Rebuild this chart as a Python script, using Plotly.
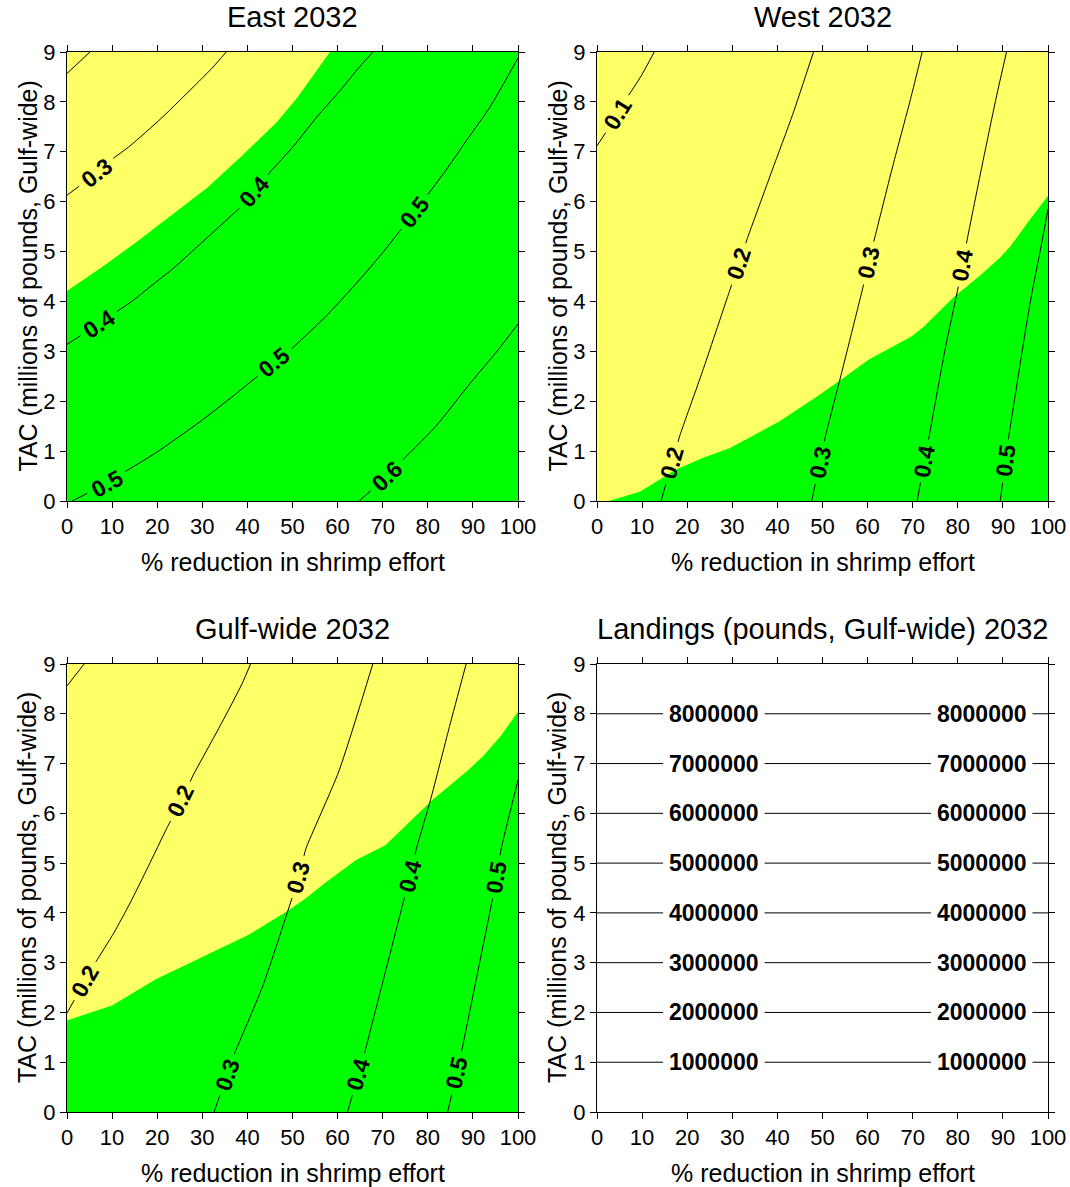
import math
import plotly.graph_objects as go

FONT = "Liberation Sans, Arial, sans-serif"
YELLOW = "#FFFF66"
GREEN = "#00FF00"
W, H = 1070, 1187

X_RANGE = [0, 100]
Y_RANGE = [0, 9]

# ---- East 2032 -------------------------------------------------------------
east_fill_x = [0, 8.1, 15.7, 23.4, 31.1, 38.8, 46.4, 51.0, 54.3, 58.3]
east_fill_y = [4.21, 4.71, 5.21, 5.75, 6.28, 6.92, 7.58, 8.08, 8.50, 9.0]

east_02_x = [0, 5.1]
east_02_y = [8.57, 9.0]
east_02_lab = []
east_03_x = [0, 6.6, 10.3, 14.0, 21.0, 28.8, 32.4, 35.3]
east_03_y = [6.13, 6.57, 6.87, 7.12, 7.68, 8.37, 8.70, 9.0]
east_03_lab = [1]
east_04_x = [0, 7.1, 11.1, 14.2, 20.3, 23.4, 31.1, 38.0, 41.4, 44.9, 50.3, 55.6, 60.2, 64.1, 67.8]
east_04_y = [3.14, 3.55, 3.80, 3.99, 4.43, 4.65, 5.28, 5.85, 6.20, 6.58, 7.12, 7.72, 8.19, 8.62, 9.0]
east_04_lab = [1, 8]
east_05_x = [1.15, 8.8, 12.9, 19.6, 29.5, 37.2, 46.0, 49.9, 57.2, 61.0, 65.6, 70.2, 74.1, 77.0,
             80.0, 84.4, 88.6, 93.8, 100]
east_05_y = [0, 0.35, 0.59, 0.96, 1.59, 2.13, 2.78, 3.06, 3.68, 4.05, 4.51, 5.00, 5.45, 5.80,
             6.14, 6.68, 7.23, 7.90, 8.88]
east_05_lab = [1, 6, 13]
east_06_x = [64.8, 71.0, 74.4, 81.7, 89.4, 95.6, 100]
east_06_y = [0, 0.50, 0.82, 1.49, 2.36, 3.03, 3.55]
east_06_lab = [1]

# ---- West 2032 -------------------------------------------------------------
west_fill_x = [0, 2.7, 9.6, 17.3, 23.4, 29.5, 40.3, 48.7, 54.1, 60.2, 69.8, 72.5, 79.0, 84.8,
               89.4, 91.7, 95.5, 100]
west_fill_y = [0, 0, 0.19, 0.62, 0.86, 1.06, 1.59, 2.09, 2.43, 2.83, 3.30, 3.50, 4.08, 4.51,
               4.88, 5.11, 5.58, 6.12]

west_01_x = [0, 4.6, 6.9, 9.6, 12.7]
west_01_y = [7.12, 7.75, 8.12, 8.49, 9.0]
west_01_lab = [1]
west_02_x = [14.2, 16.6, 18.4, 23.4, 28.8, 31.4, 33.4, 38.8, 43.4, 48.0]
west_02_y = [0, 0.76, 1.32, 2.60, 4.05, 4.75, 5.28, 6.62, 7.75, 9.0]
west_02_lab = [1, 5]
west_03_x = [47.6, 49.4, 50.7, 54.1, 59.1, 60.2, 61.4, 65.6, 69.5, 72.1]
west_03_y = [0, 0.77, 1.32, 2.52, 4.33, 4.77, 5.21, 6.72, 8.05, 9.0]
west_03_lab = [1, 5]
west_04_x = [71.0, 72.6, 73.7, 77.1, 80.2, 81.0, 82.1, 85.6, 88.6, 90.8]
west_04_y = [0, 0.80, 1.32, 3.00, 4.33, 4.73, 5.25, 6.82, 8.12, 9.0]
west_04_lab = [1, 5]
west_05_x = [89.4, 90.6, 91.3, 94.8, 96.4, 98.2, 100]
west_05_y = [0, 0.80, 1.29, 3.30, 4.15, 4.98, 5.85]
west_05_lab = [1]

# ---- Gulf-wide 2032 --------------------------------------------------------
gulf_fill_x = [0, 10.0, 19.6, 29.5, 40.3, 48.7, 52.6, 57.2, 64.1, 70.6, 74.8, 81.0, 89.0,
               92.5, 96.3, 100]
gulf_fill_y = [1.84, 2.14, 2.66, 3.09, 3.56, 4.03, 4.27, 4.60, 5.06, 5.36, 5.73, 6.27, 6.87,
               7.17, 7.57, 8.04]

gulf_01_x = [0, 3.8]
gulf_01_y = [8.56, 9.0]
gulf_01_lab = []
gulf_02_x = [0, 4.0, 6.5, 10.4, 14.0, 18.0, 21.9, 25.2, 28.0, 34.2, 38.8, 40.7]
gulf_02_y = [1.99, 2.63, 3.03, 3.60, 4.20, 4.93, 5.66, 6.24, 6.77, 7.80, 8.60, 9.0]
gulf_02_lab = [1, 7]
gulf_03_x = [32.6, 35.5, 37.2, 43.4, 49.9, 51.3, 53.0, 60.3, 67.8]
gulf_03_y = [0, 0.75, 1.19, 2.53, 4.30, 4.72, 5.30, 6.85, 9.0]
gulf_03_lab = [1, 5]
gulf_04_x = [62.2, 64.6, 66.0, 74.8, 76.1, 77.5, 80.6, 84.8, 88.5]
gulf_04_y = [0, 0.76, 1.19, 4.30, 4.74, 5.30, 6.27, 7.74, 9.0]
gulf_04_lab = [1, 4]
gulf_05_x = [84.4, 86.4, 87.5, 94.4, 95.2, 96.3, 100]
gulf_05_y = [0, 0.78, 1.22, 4.30, 4.72, 5.30, 6.67]
gulf_05_lab = [1, 4]

# ---- Landings (pounds, Gulf-wide) ------------------------------------------
land_levels = [1000000, 2000000, 3000000, 4000000, 5000000, 6000000, 7000000, 8000000]
land_label_x = [25.9, 85.3]

# ---- Panel geometry (pixel boxes: left, right, top, bottom) ----------------
panels = [
    dict(title="East 2032", box=(67, 518, 52, 501), fill=(east_fill_x, east_fill_y),
         lines=[(east_02_x, east_02_y, east_02_lab, "0.2"),
                (east_03_x, east_03_y, east_03_lab, "0.3"),
                (east_04_x, east_04_y, east_04_lab, "0.4"),
                (east_05_x, east_05_y, east_05_lab, "0.5"),
                (east_06_x, east_06_y, east_06_lab, "0.6")]),
    dict(title="West 2032", box=(597, 1048, 52, 501), fill=(west_fill_x, west_fill_y),
         lines=[(west_01_x, west_01_y, west_01_lab, "0.1"),
                (west_02_x, west_02_y, west_02_lab, "0.2"),
                (west_03_x, west_03_y, west_03_lab, "0.3"),
                (west_04_x, west_04_y, west_04_lab, "0.4"),
                (west_05_x, west_05_y, west_05_lab, "0.5")]),
    dict(title="Gulf-wide 2032", box=(67, 518, 664, 1112), fill=(gulf_fill_x, gulf_fill_y),
         lines=[(gulf_01_x, gulf_01_y, gulf_01_lab, "0.1"),
                (gulf_02_x, gulf_02_y, gulf_02_lab, "0.2"),
                (gulf_03_x, gulf_03_y, gulf_03_lab, "0.3"),
                (gulf_04_x, gulf_04_y, gulf_04_lab, "0.4"),
                (gulf_05_x, gulf_05_y, gulf_05_lab, "0.5")]),
    dict(title="Landings (pounds, Gulf-wide) 2032", box=(597, 1048, 664, 1112), fill=None,
         lines=[([X_RANGE[0], land_label_x[0], land_label_x[1], X_RANGE[1]],
                 [lv / 1e6] * 4, [1, 2], str(lv)) for lv in land_levels]),
]

LABEL_SIZE = 23
CHAR_W = {".": 0.278}


def text_width(s, size):
    return sum(CHAR_W.get(c, 0.556) for c in s) * size


def cut_gaps(xs, ys, centers, radius, sx, sy):
    """Remove the parts of a polyline lying within `radius` px of each label centre."""
    pts = [(x * sx, y * sy) for x, y in zip(xs, ys)]
    cs = [(x * sx, y * sy) for x, y in centers]
    pieces, cur = [], []
    for i in range(len(pts) - 1):
        (x0, y0), (x1, y1) = pts[i], pts[i + 1]
        dx, dy = x1 - x0, y1 - y0
        a = dx * dx + dy * dy
        inside = []
        for cx, cy in cs:
            fx, fy = x0 - cx, y0 - cy
            b = 2 * (fx * dx + fy * dy)
            c = fx * fx + fy * fy - radius * radius
            disc = b * b - 4 * a * c
            if a == 0 or disc <= 0:
                continue
            s = math.sqrt(disc)
            lo, hi = max((-b - s) / (2 * a), 0.0), min((-b + s) / (2 * a), 1.0)
            if lo < hi:
                inside.append((lo, hi))
        inside.sort()
        outs, t = [], 0.0
        for lo, hi in inside:
            if lo > t:
                outs.append((t, lo))
            t = max(t, hi)
        if t < 1:
            outs.append((t, 1.0))
        if not outs and cur:
            pieces.append(cur)
            cur = []
        for ta, tb in outs:
            pa = (x0 + ta * dx, y0 + ta * dy)
            pb = (x0 + tb * dx, y0 + tb * dy)
            if ta == 0 and cur:
                cur.append(pb)
            else:
                if cur:
                    pieces.append(cur)
                cur = [pa, pb]
            if tb < 1:
                pieces.append(cur)
                cur = []
    if cur:
        pieces.append(cur)
    return [([q[0] / sx for q in p], [q[1] / sy for q in p]) for p in pieces]


fig = go.Figure()
annotations = []
shapes = []

for k, pan in enumerate(panels):
    n = "" if k == 0 else str(k + 1)
    xref, yref = "x" + n, "y" + n
    l, r, t, b = pan["box"]
    sx = (r - l) / (X_RANGE[1] - X_RANGE[0])
    sy = (b - t) / (Y_RANGE[1] - Y_RANGE[0])

    axis_style = dict(showline=True, linecolor="black", linewidth=1, mirror="ticks",
                      ticks="outside", ticklen=6, tickwidth=1, tickcolor="black",
                      showgrid=False, zeroline=False, automargin=False,
                      tickfont=dict(family=FONT, size=22, color="black"))
    fig.layout["xaxis" + n] = dict(domain=[l / W, r / W], range=X_RANGE, anchor=yref,
                                   tickmode="linear", tick0=0, dtick=10, **axis_style)
    fig.layout["yaxis" + n] = dict(domain=[1 - b / H, 1 - t / H], range=Y_RANGE, anchor=xref,
                                   tickmode="linear", tick0=0, dtick=1, **axis_style)

    if pan["fill"] is not None:
        shapes.append(dict(type="rect", xref=xref + " domain", yref=yref + " domain",
                           x0=0, x1=1, y0=0, y1=1, fillcolor=YELLOW, line=dict(width=0),
                           layer="below"))
        fx, fy = list(pan["fill"][0]), list(pan["fill"][1])
        # close the region on the low-TAC / high-reduction side
        if fy[-1] >= Y_RANGE[1] and fx[-1] < X_RANGE[1]:
            fx.append(X_RANGE[1]); fy.append(Y_RANGE[1])
        fx.append(X_RANGE[1]); fy.append(Y_RANGE[0])
        if fy[0] > Y_RANGE[0]:
            fx.append(X_RANGE[0]); fy.append(Y_RANGE[0])
        fig.add_trace(go.Scatter(x=fx, y=fy, fill="toself", fillcolor=GREEN, mode="lines",
                                 line=dict(width=0, color=GREEN), hoverinfo="skip",
                                 showlegend=False, xaxis=xref, yaxis=yref))

    for xs, ys, labs, txt in pan["lines"]:
        centers = [(xs[i], ys[i]) for i in labs]
        radius = text_width(txt, LABEL_SIZE) / 2 + 6
        for px, py in cut_gaps(xs, ys, centers, radius, sx, sy):
            fig.add_trace(go.Scatter(x=px, y=py, mode="lines",
                                     line=dict(color="black", width=1, shape="spline",
                                               smoothing=0.6),
                                     hoverinfo="skip", showlegend=False,
                                     xaxis=xref, yaxis=yref))
        for i in labs:
            ddx = (xs[i + 1] - xs[i - 1]) * sx
            ddy = (ys[i + 1] - ys[i - 1]) * sy
            ang = -math.degrees(math.atan2(ddy, ddx))
            annotations.append(dict(x=xs[i], y=ys[i], xref=xref, yref=yref,
                                    text="<b>" + txt + "</b>", showarrow=False,
                                    textangle=ang, xanchor="center", yanchor="middle",
                                    font=dict(family=FONT, size=LABEL_SIZE, color="black")))

    cx = (l + r) / 2
    cy = (t + b) / 2
    annotations.append(dict(x=cx / W, y=1 - (t - 35) / H, xref="paper", yref="paper",
                            text=pan["title"], showarrow=False, xanchor="center", yanchor="middle",
                            font=dict(family=FONT, size=29, color="black")))
    annotations.append(dict(x=cx / W, y=1 - (b + 61) / H, xref="paper", yref="paper",
                            text="% reduction in shrimp effort", showarrow=False,
                            xanchor="center", yanchor="middle",
                            font=dict(family=FONT, size=25, color="black")))
    annotations.append(dict(x=(l - 40) / W, y=1 - cy / H, xref="paper", yref="paper",
                            text="TAC (millions of pounds, Gulf-wide)", showarrow=False,
                            textangle=-90, xanchor="center", yanchor="middle",
                            font=dict(family=FONT, size=25, color="black")))

fig.update_layout(width=W, height=H, margin=dict(l=0, r=0, t=0, b=0, autoexpand=False),
                  paper_bgcolor="white", plot_bgcolor="white",
                  annotations=annotations, shapes=shapes, showlegend=False)

fig.write_html("out.html")
